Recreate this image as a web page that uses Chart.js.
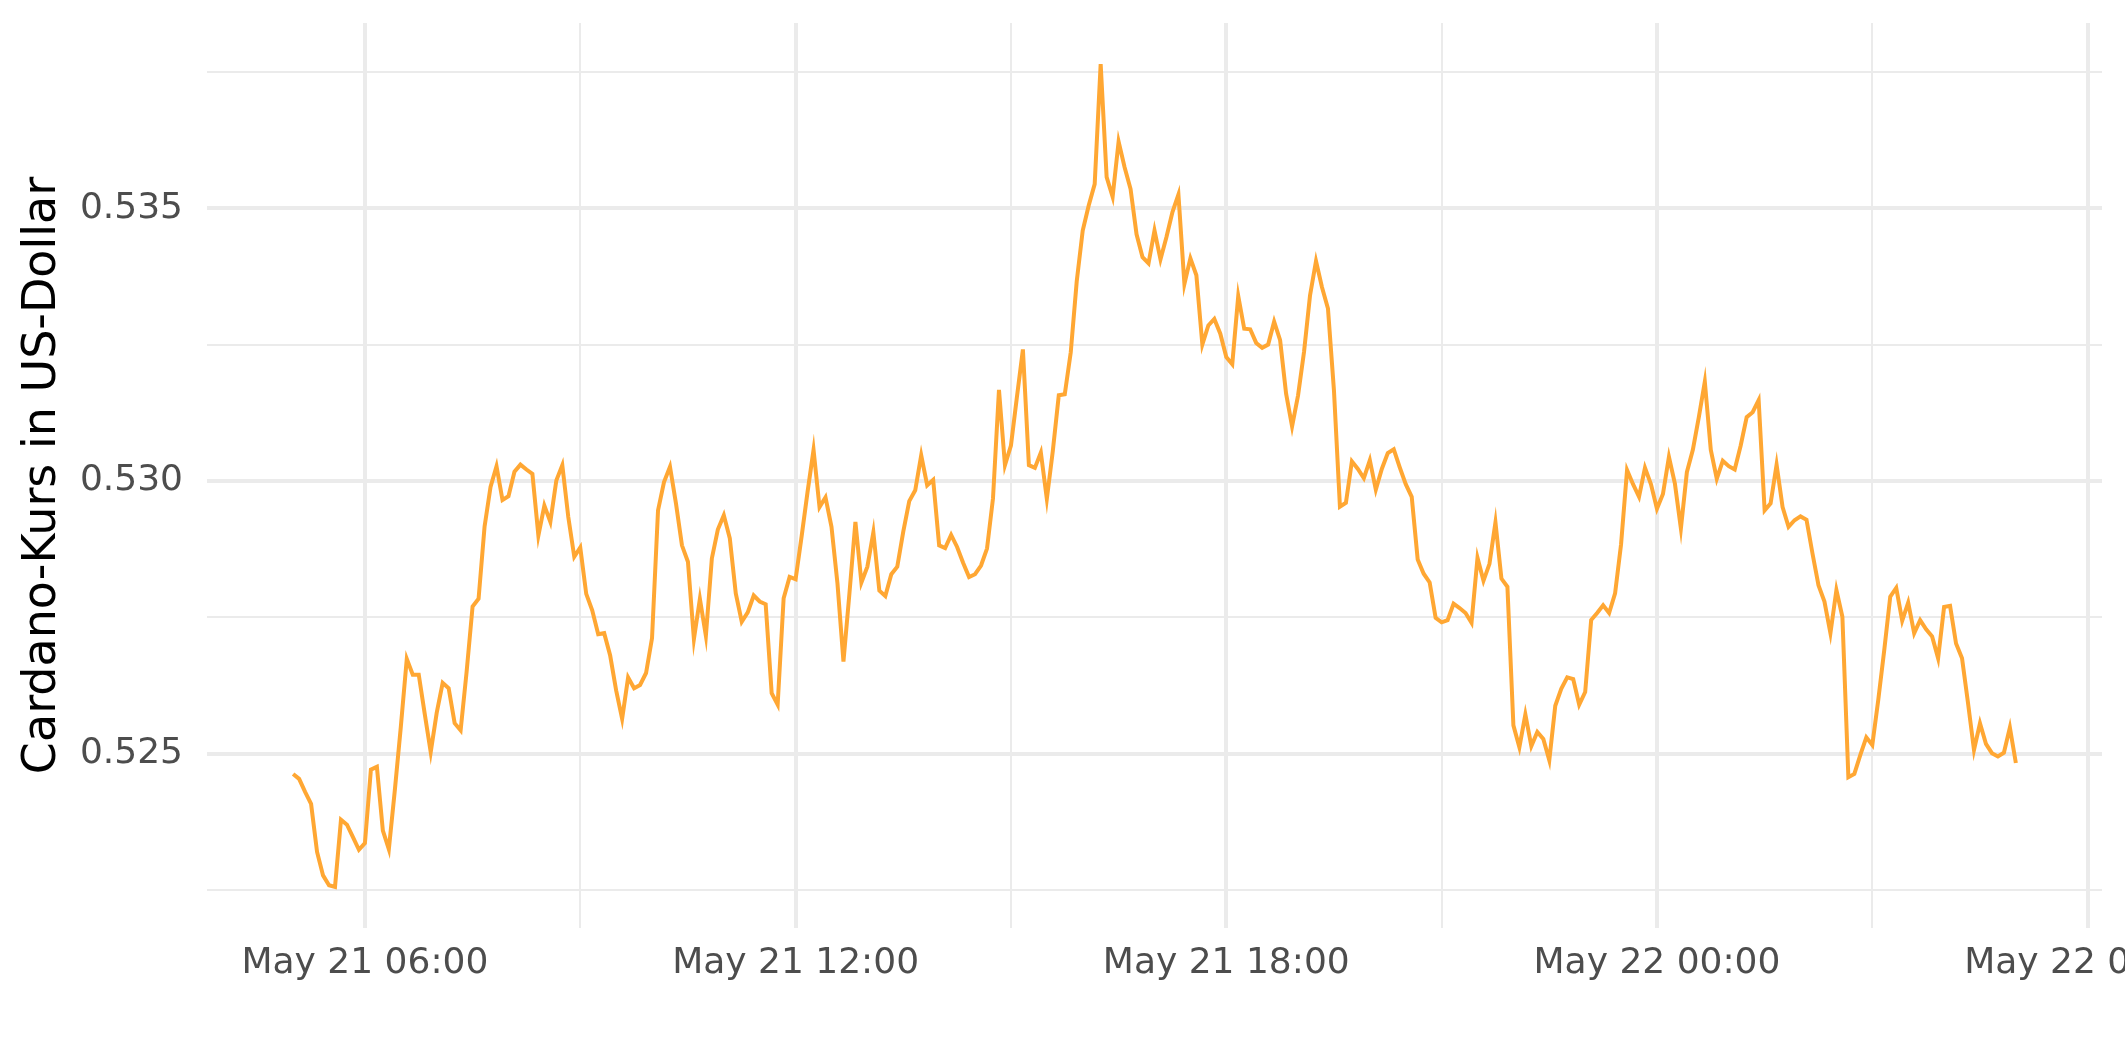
<!DOCTYPE html>
<html>
<head>
<meta charset="utf-8">
<title>Cardano-Kurs</title>
<script src="https://cdn.jsdelivr.net/npm/chart.js@4.4.1/dist/chart.umd.min.js"></script>
<style>
  html, body { margin: 0; padding: 0; background: #ffffff; }
  #wrap { width: 2125px; height: 1062px; }
</style>
</head>
<body>
<div id="wrap"><canvas id="kursChart"></canvas></div>
<script>
// Kursdaten ADA/USD, 5-Minuten-Werte ab 21. Mai 05:00
const startStunde = 5;      // Stunden seit 21. Mai 00:00
const schrittMinuten = 5;

// 05:00 - 10:55
const kurs05bis11 = [
  0.52463, 0.52454, 0.52430, 0.52408, 0.52320, 0.52277, 0.52259, 0.52256, 0.52379, 0.52370, 0.52347, 0.52324,
  0.52336, 0.52471, 0.52476, 0.52359, 0.52325, 0.52433, 0.52549, 0.52674, 0.52645, 0.52645, 0.52573, 0.52503,
  0.52575, 0.52630, 0.52620, 0.52556, 0.52543, 0.52650, 0.52770, 0.52784, 0.52916, 0.52989, 0.53027, 0.52965,
  0.52972, 0.53017, 0.53030, 0.53021, 0.53013, 0.52900, 0.52955, 0.52925, 0.53001, 0.53029, 0.52934, 0.52861,
  0.52878, 0.52793, 0.52763, 0.52719, 0.52721, 0.52680, 0.52616, 0.52564, 0.52640, 0.52620, 0.52626, 0.52648,
  0.52712, 0.52946, 0.52998, 0.53026, 0.52959, 0.52882, 0.52852, 0.52710, 0.52784, 0.52716, 0.52858, 0.52911
];
// 11:00 - 16:55
const kurs11bis17 = [
  0.52937, 0.52895, 0.52794, 0.52742, 0.52759, 0.52790, 0.52779, 0.52774, 0.52611, 0.52590, 0.52785, 0.52824,
  0.52820, 0.52898, 0.52980, 0.53057, 0.52952, 0.52970, 0.52916, 0.52812, 0.52669, 0.52794, 0.52925, 0.52814,
  0.52843, 0.52906, 0.52799, 0.52789, 0.52829, 0.52843, 0.52907, 0.52963, 0.52983, 0.53047, 0.52992, 0.53002,
  0.52882, 0.52877, 0.52901, 0.52879, 0.52850, 0.52824, 0.52829, 0.52845, 0.52876, 0.52968, 0.53167, 0.53029,
  0.53065, 0.53154, 0.53241, 0.53029, 0.53024, 0.53052, 0.52967, 0.53055, 0.53157, 0.53159, 0.53236, 0.53366,
  0.53459, 0.53505, 0.53544, 0.53764, 0.53557, 0.53521, 0.53622, 0.53575, 0.53535, 0.53452, 0.53410, 0.53399
];
// 17:00 - 22:55
const kurs17bis23 = [
  0.53459, 0.53406, 0.53447, 0.53493, 0.53525, 0.53361, 0.53408, 0.53377, 0.53250, 0.53285, 0.53297, 0.53270,
  0.53227, 0.53214, 0.53339, 0.53279, 0.53278, 0.53253, 0.53244, 0.53250, 0.53292, 0.53258, 0.53160, 0.53100,
  0.53157, 0.53237, 0.53340, 0.53403, 0.53355, 0.53316, 0.53166, 0.52953, 0.52960, 0.53036, 0.53022, 0.53005,
  0.53038, 0.52984, 0.53022, 0.53051, 0.53058, 0.53025, 0.52994, 0.52971, 0.52856, 0.52830, 0.52814, 0.52749,
  0.52741, 0.52745, 0.52775, 0.52767, 0.52758, 0.52740, 0.52859, 0.52817, 0.52848, 0.52924, 0.52821, 0.52806,
  0.52552, 0.52512, 0.52572, 0.52514, 0.52540, 0.52527, 0.52488, 0.52588, 0.52619, 0.52640, 0.52637, 0.52590
];
// 23:00 - 05:00 (22. Mai)
const kurs23bis05 = [
  0.52613, 0.52745, 0.52758, 0.52772, 0.52758, 0.52794, 0.52884, 0.53020, 0.52994, 0.52971, 0.53024, 0.52994,
  0.52949, 0.52976, 0.53044, 0.52995, 0.52913, 0.53016, 0.53057, 0.53117, 0.53182, 0.53057, 0.53004, 0.53037,
  0.53027, 0.53021, 0.53065, 0.53117, 0.53126, 0.53148, 0.52946, 0.52959, 0.53030, 0.52952, 0.52916, 0.52928,
  0.52935, 0.52929, 0.52867, 0.52809, 0.52779, 0.52721, 0.52800, 0.52751, 0.52457, 0.52463, 0.52498, 0.52530,
  0.52516, 0.52599, 0.52690, 0.52788, 0.52804, 0.52744, 0.52777, 0.52721, 0.52745, 0.52728, 0.52715, 0.52675,
  0.52769, 0.52771, 0.52702, 0.52675, 0.52593, 0.52507, 0.52556, 0.52518, 0.52501, 0.52495, 0.52502, 0.52548,
  0.52483
];

const GRID_FARBE = '#EBEBEB';
const LINIEN_FARBE = '#FFA733';

const kurse = [].concat(kurs05bis11, kurs11bis17, kurs17bis23, kurs23bis05);
const punkte = kurse.map((v, i) => ({ x: startStunde + i * schrittMinuten / 60, y: v }));

// Achsenbereich wie bei ggplot: 5 % Rand auf jeder Seite
const xDatMin = punkte[0].x, xDatMax = punkte[punkte.length - 1].x;
const yDatMin = Math.min(...kurse), yDatMax = Math.max(...kurse);
const xRand = (xDatMax - xDatMin) * 0.05;
const yRand = (yDatMax - yDatMin) * 0.05;

function istHauptY(v) {
  return Math.abs(v * 200 - Math.round(v * 200)) < 1e-6;
}

function zeitLabel(stunden) {
  const tag = 21 + Math.floor(stunden / 24);
  const h = ((stunden % 24) + 24) % 24;
  return 'May ' + tag + ' ' + String(h).padStart(2, '0') + ':00';
}

Chart.defaults.font.family = "'DejaVu Sans', 'Noto Sans', sans-serif";

const ctx = document.getElementById('kursChart');
new Chart(ctx, {
  type: 'line',
  data: {
    datasets: [{
      data: punkte,
      borderColor: LINIEN_FARBE,
      borderWidth: 4,
      pointRadius: 0,
      tension: 0,
      fill: false
    }]
  },
  options: {
    responsive: true,
    maintainAspectRatio: false,
    animation: false,
    layout: { padding: { top: 23, right: 23, left: 0, bottom: 0 } },
    plugins: {
      legend: { display: false },
      tooltip: { enabled: false }
    },
    scales: {
      x: {
        type: 'linear',
        min: xDatMin - xRand,
        max: xDatMax + xRand,
        border: { display: false },
        grid: {
          color: GRID_FARBE,
          drawTicks: false,
          lineWidth: c => (c.tick && c.tick.value % 6 === 0) ? 4 : 2
        },
        ticks: {
          stepSize: 3,
          includeBounds: false,
          autoSkip: false,
          maxRotation: 0,
          padding: 14,
          color: '#4D4D4D',
          font: { size: 36 },
          callback: v => (v % 6 === 0) ? zeitLabel(v) : ''
        },
        afterFit: s => { s.height = 134; s.paddingLeft = 0; s.paddingRight = 0; }
      },
      y: {
        min: yDatMin - yRand,
        max: yDatMax + yRand,
        border: { display: false },
        grid: {
          color: GRID_FARBE,
          drawTicks: false,
          lineWidth: c => (c.tick && istHauptY(c.tick.value)) ? 4 : 2
        },
        ticks: {
          stepSize: 0.0025,
          includeBounds: false,
          autoSkip: false,
          padding: 24,
          color: '#4D4D4D',
          font: { size: 36 },
          callback: v => istHauptY(v) ? v.toFixed(3) : ''
        },
        title: {
          display: true,
          text: 'Cardano-Kurs in US-Dollar',
          color: '#000000',
          font: { size: 46 },
          padding: { top: 15, bottom: 0 }
        },
        afterFit: s => { s.width = 207; s.paddingTop = 0; s.paddingBottom = 0; }
      }
    }
  }
});
</script>
</body>
</html>
